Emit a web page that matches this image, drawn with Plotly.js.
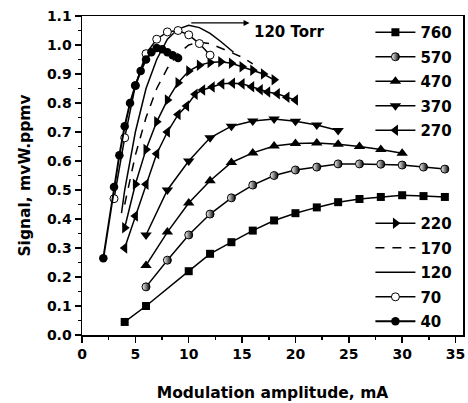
<!DOCTYPE html>
<html>
<head>
<meta charset="utf-8">
<script src="https://cdn.plot.ly/plotly-3.0.1.min.js"></script>
<style>html,body{margin:0;padding:0;background:#fff;}#chart{width:468px;height:403px;}</style>
</head>
<body>
<div id="chart"></div>
<script>
// Data (x: modulation amplitude mA, y: signal)
const x760 = [4, 6, 10, 12, 14, 16, 18, 20, 22, 24, 26, 28, 30, 32, 34];
const y760 = [0.045, 0.10, 0.22, 0.28, 0.32, 0.36, 0.395, 0.42, 0.44, 0.458, 0.469, 0.476, 0.482, 0.479, 0.476];
const x570 = [6, 8, 10, 12, 14, 16, 18, 20, 22, 24, 26, 28, 30, 32, 34];
const y570 = [0.166, 0.258, 0.345, 0.417, 0.473, 0.517, 0.55, 0.569, 0.579, 0.59, 0.59, 0.589, 0.586, 0.579, 0.572];
const x470 = [6, 8, 10, 12, 14, 16, 18, 20, 22, 24, 26, 28, 30];
const y470 = [0.24, 0.355, 0.455, 0.532, 0.595, 0.628, 0.652, 0.66, 0.662, 0.658, 0.65, 0.64, 0.627];
const x370 = [6, 8, 10, 12, 14, 16, 18, 20, 22, 24];
const y370 = [0.345, 0.50, 0.60, 0.68, 0.72, 0.738, 0.745, 0.737, 0.724, 0.705];
const x270 = [4, 5, 6, 7, 8, 9, 9.8, 10.6, 11.3, 12.2, 13.1, 14.1, 15, 15.9, 16.7, 17.4, 18.3, 19.2, 20];
const y270 = [0.30, 0.41, 0.52, 0.625, 0.70, 0.76, 0.79, 0.83, 0.845, 0.855, 0.866, 0.868, 0.866, 0.856, 0.846, 0.838, 0.832, 0.82, 0.81];
const x220 = [4, 5, 6, 7, 8, 9, 10, 11, 12, 13, 14, 15, 16, 17, 18];
const y220 = [0.37, 0.52, 0.64, 0.735, 0.81, 0.87, 0.91, 0.93, 0.94, 0.942, 0.937, 0.925, 0.913, 0.9, 0.88];
const x170 = [4, 5, 6, 7, 8, 9, 10, 11, 12, 13, 14, 15, 16];
const y170 = [0.45, 0.62, 0.75, 0.85, 0.92, 0.97, 1.0, 1.01, 1.005, 0.99, 0.975, 0.958, 0.935];
const x120 = [3.7, 4, 5, 6, 7, 8, 9, 10, 11, 12, 13, 14.2];
const y120 = [0.42, 0.50, 0.70, 0.85, 0.95, 1.02, 1.055, 1.068, 1.06, 1.04, 1.012, 0.975];
const x70 = [3, 4, 5, 6, 7, 8, 9, 10, 11, 12];
const y70 = [0.47, 0.68, 0.86, 0.97, 1.02, 1.045, 1.05, 1.035, 1.005, 0.965];
const x40 = [2, 3, 3.5, 4, 4.5, 5, 5.5, 6, 6.5, 7, 7.5, 8, 8.5, 9];
const y40 = [0.265, 0.51, 0.62, 0.72, 0.80, 0.86, 0.91, 0.95, 0.975, 0.99, 0.985, 0.975, 0.965, 0.955];

const seriesNames = ['760', '570', '470', '370', '270', '220', '170', '120', '70', '40'];
const annotationText = '120 Torr';
const xTitle = 'Modulation amplitude, mA';
const yTitle = 'Signal, mvW.ppmv';

const FONT = 'DejaVu Sans, Liberation Sans, Arial, sans-serif';
const line = {color: 'black', width: 1.5};

function tr(name, x, y, marker, legend, extraLine) {
  const t = {
    type: 'scatter', x: x, y: y, name: name,
    mode: marker ? 'lines+markers' : 'lines',
    line: Object.assign({}, line, extraLine || {}),
    legend: legend, legendgroup: name
  };
  if (marker) t.marker = marker;
  return t;
}

const data = [
  tr(seriesNames[0], x760, y760, {symbol: 'square', size: 8, color: 'black'}, 'legend'),
  tr(seriesNames[1], x570, y570, {symbol: 'circle', size: 8, color: 'white', gradient: {type: 'horizontal', color: 'black'}, line: {color: 'black', width: 1}}, 'legend'),
  tr(seriesNames[2], x470, y470, {symbol: 'triangle-up', size: 10, color: 'black'}, 'legend'),
  tr(seriesNames[3], x370, y370, {symbol: 'triangle-down', size: 10, color: 'black'}, 'legend'),
  tr(seriesNames[4], x270, y270, {symbol: 'triangle-left', size: 10, color: 'black'}, 'legend'),
  tr(seriesNames[5], x220, y220, {symbol: 'triangle-right', size: 10, color: 'black'}, 'legend2'),
  tr(seriesNames[6], x170, y170, null, 'legend2', {dash: '9px,8px'}),
  tr(seriesNames[7], x120, y120, null, 'legend2'),
  tr(seriesNames[8], x70, y70, {symbol: 'circle', size: 8, color: 'white', line: {color: 'black', width: 1}}, 'legend2'),
  tr(seriesNames[9], x40, y40, {symbol: 'circle', size: 8.5, color: 'black'}, 'legend2', {width: 2})
];

const legendBase = {
  xref: 'paper', yref: 'paper', xanchor: 'left', yanchor: 'top',
  bgcolor: 'rgba(0,0,0,0)', borderwidth: 0,
  font: {family: FONT, size: 15, color: 'black', weight: 700},
  itemwidth: 40, traceorder: 'grouped', tracegroupgap: 2
};

const layout = {
  width: 468, height: 403,
  margin: {l: 82, r: 5, t: 16, b: 68},
  paper_bgcolor: 'white', plot_bgcolor: 'white',
  showlegend: true,
  font: {family: FONT, color: 'black', weight: 700},
  xaxis: {
    range: [0, 35.7], dtick: 5, tick0: 0,
    ticks: 'outside', ticklen: 6, tickwidth: 1.5, tickcolor: 'black',
    minor: {dtick: 2.5, ticks: 'outside', ticklen: 3, tickwidth: 1.5, tickcolor: 'black'},
    showline: true, linecolor: 'black', linewidth: 1.5, mirror: true,
    showgrid: false, zeroline: false,
    tickfont: {family: FONT, size: 14, color: 'black', weight: 700},
    title: {text: xTitle, font: {family: FONT, size: 15.5, color: 'black', weight: 700}, standoff: 26}
  },
  yaxis: {
    range: [0, 1.1], dtick: 0.1, tick0: 0, tickformat: '.1f',
    ticks: 'outside', ticklen: 6, tickwidth: 1.5, tickcolor: 'black',
    minor: {dtick: 0.05, ticks: 'outside', ticklen: 3, tickwidth: 1.5, tickcolor: 'black'},
    showline: true, linecolor: 'black', linewidth: 1.5, mirror: true,
    showgrid: false, zeroline: false,
    tickfont: {family: FONT, size: 14, color: 'black', weight: 700},
    title: {text: yTitle, font: {family: FONT, size: 15.5, color: 'black', weight: 700}, standoff: 12}
  },
  legend: Object.assign({}, legendBase, {x: 0.757, y: 1.0}),
  legend2: Object.assign({}, legendBase, {x: 0.757, y: 0.401}),
  annotations: [
    {xref: 'x', yref: 'y', axref: 'x', ayref: 'y', x: 15.7, y: 1.076, ax: 10.1, ay: 1.076,
     text: '', showarrow: true, arrowhead: 2, arrowsize: 1, arrowwidth: 1.2, arrowcolor: 'black'},
    {xref: 'x', yref: 'y', x: 15.9, y: 1.045, xanchor: 'left', yanchor: 'middle', showarrow: false,
     text: annotationText, font: {family: FONT, size: 15, color: 'black', weight: 700}}
  ]
};

Plotly.newPlot('chart', data, layout, {displayModeBar: false, staticPlot: true});
</script>
</body>
</html>
